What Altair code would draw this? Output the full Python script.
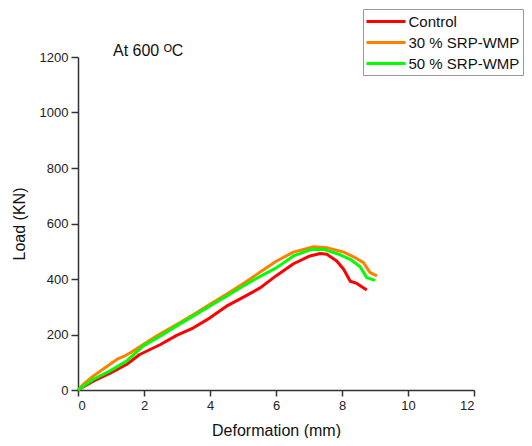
import altair as alt
import pandas as pd

series_names = ["Control", "30 % SRP-WMP", "50 % SRP-WMP"]
series_colors = ["#FF0000", "#FF8000", "#00FF00"]

control_x = [0, 0.46, 0.96, 1.47, 1.87, 2.5, 2.99, 3.5, 4.0, 4.5, 5.0, 5.52, 6.02, 6.53, 7.03, 7.34, 7.54, 7.84, 8.05, 8.25, 8.45, 8.75]
control_y = [0, 32, 60, 92, 128, 164, 197, 224, 260, 302, 334, 368, 413, 455, 483, 492, 489, 465, 435, 392, 384, 360]

srp30_x = [0, 0.2, 0.46, 0.7, 0.96, 1.2, 1.37, 1.6, 1.87, 2.4, 2.99, 3.5, 4.0, 4.5, 5.01, 5.5, 6.02, 6.53, 7.14, 7.54, 8.05, 8.35, 8.65, 8.85, 9.06]
srp30_y = [0, 25, 50, 70, 92, 112, 120, 135, 156, 196, 236, 272, 309, 345, 384, 423, 465, 497, 516, 513, 497, 480, 459, 423, 411]

srp50_x = [0, 0.46, 0.96, 1.47, 1.97, 2.5, 2.99, 3.5, 4.0, 4.5, 5.01, 5.5, 6.02, 6.53, 7.03, 7.44, 7.84, 8.25, 8.55, 8.75, 9.0]
srp50_y = [0, 38, 68, 104, 158, 195, 231, 267, 303, 338, 375, 408, 441, 483, 505, 507, 492, 471, 444, 405, 395]

annotation_text = ["At 600 ᴼC"]
annotation_x = [1.06]
annotation_y = [1205]

rows = []
for name, xs, ys in zip(series_names, [control_x, srp30_x, srp50_x], [control_y, srp30_y, srp50_y]):
    for i, (xv, yv) in enumerate(zip(xs, ys)):
        rows.append({"series": name, "order": i, "x": xv, "y": yv})
df = pd.DataFrame(rows)
ann = pd.DataFrame({"text": annotation_text, "x": annotation_x, "y": annotation_y})

FONT = "Liberation Sans"

x_ticks = list(range(0, 13))
y_ticks = list(range(0, 1201, 100))

x_enc = alt.X("x:Q", title="Deformation (mm)",
              scale=alt.Scale(domain=[0, 12], nice=False, zero=False),
              axis=alt.Axis(values=x_ticks, format="d",
                            labelExpr="datum.value % 2 === 0 ? datum.label : ''",
                            tickSize={"condition": {"test": "datum.value % 2 !== 0", "value": 3}, "value": 6},
                            grid=False, titlePadding=10))
y_enc = alt.Y("y:Q", title="Load (KN)",
              scale=alt.Scale(domain=[0, 1200], nice=False),
              axis=alt.Axis(values=y_ticks, format="d",
                            labelExpr="datum.value % 200 === 0 ? datum.label : ''",
                            tickSize={"condition": {"test": "datum.value % 200 !== 0", "value": 3.5}, "value": 7},
                            grid=False, titlePadding=12))

lines = alt.Chart(df).mark_line(strokeWidth=3, strokeJoin="round").encode(
    x=x_enc,
    y=y_enc,
    color=alt.Color("series:N", scale=alt.Scale(domain=series_names, range=series_colors),
                    legend=alt.Legend(title=None, orient="none", legendX=285, legendY=-48,
                                      symbolType="M-2.44,0L2.44,0", symbolSize=256, symbolStrokeWidth=3,
                                      symbolOffset=10.5,
                                      labelFontSize=15, labelFont=FONT, labelColor="#111",
                                      strokeColor="#999", padding=3, rowPadding=3, labelOffset=13)),
    order="order:Q",
    detail="series:N",
)

label = alt.Chart(ann).mark_text(align="left", baseline="alphabetic", fontSize=16, font=FONT,
                                 color="#111", clip=False).encode(
    x="x:Q", y="y:Q", text="text:N"
)

chart = alt.layer(lines, label).properties(
    width=396, height=333,
    autosize=alt.AutoSizeParams(type="none"),
    padding={"left": 70, "top": 49, "right": 50, "bottom": 48},
).configure_view(stroke=None).configure_axis(
    domainColor="#333", tickColor="#333", domainWidth=1.5, tickWidth=1.5,
    labelFont=FONT, labelFontSize=13, labelColor="#222", labelPadding=3,
    titleFont=FONT, titleFontSize=16, titleFontWeight="normal", titleColor="#111",
)

chart.save("out.html", embed_options={"renderer": "svg", "actions": False})
